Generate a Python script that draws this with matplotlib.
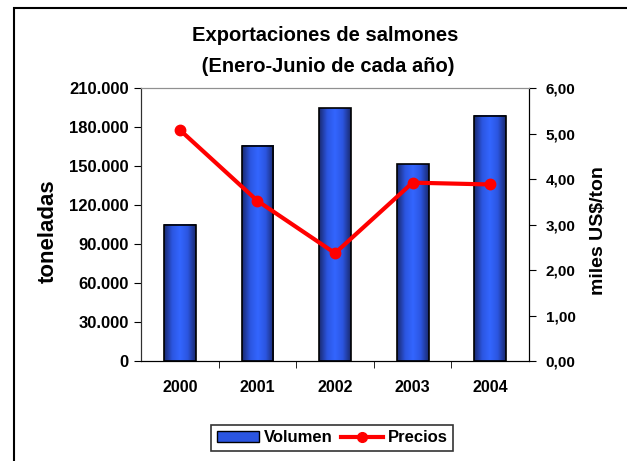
import numpy as np
import matplotlib
matplotlib.use("Agg")
from matplotlib import pyplot as plt
from matplotlib.colors import LinearSegmentedColormap
from matplotlib.patches import Rectangle, Patch
from matplotlib.lines import Line2D
from matplotlib.ticker import FuncFormatter, FixedLocator

plt.rcParams["font.family"] = ["Liberation Sans", "DejaVu Sans"]
plt.rcParams["font.weight"] = "bold"

years = ["2000", "2001", "2002", "2003", "2004"]
volumen = [105000, 165500, 194500, 151500, 188500]
precios = [5.08, 3.52, 2.37, 3.92, 3.88]

fig = plt.figure(figsize=(6.27, 4.61), dpi=100)
ax = fig.add_axes([0.2249, 0.2169, 0.6188, 0.5922])
ax2 = ax.twinx()

# gradient-filled bars
cmap = LinearSegmentedColormap.from_list(
    "bar", ["#1a2a70", "#2b55e0", "#3366ff", "#2b55e0", "#1a2a70"])
grad = np.linspace(0, 1, 64).reshape(1, -1)
x = np.arange(len(years))
w = 0.41
for xi, v in zip(x, volumen):
    ax.imshow(grad, cmap=cmap, aspect="auto", extent=[xi - w / 2, xi + w / 2, 0, v],
              origin="lower", zorder=2, interpolation="bicubic")
ax.bar(x, volumen, width=w, facecolor="none", edgecolor="black", linewidth=1.2, zorder=3)

ax.set_xlim(-0.5, 4.5)
ax.set_ylim(0, 210000)
ax.set_yticks(np.arange(0, 210001, 30000))
ax.yaxis.set_major_formatter(FuncFormatter(lambda v, p: f"{int(v):,}".replace(",", ".")))
ax.set_xticks(x)
ax.set_xticklabels(years)
ax.xaxis.set_minor_locator(FixedLocator(np.arange(0.5, 4.5, 1)))
ax.tick_params(axis="x", which="major", length=0, labelsize=11.5, pad=14)
ax.tick_params(axis="x", which="minor", length=5, direction="out")
ax.tick_params(axis="y", labelsize=12, length=5, direction="out", pad=4)
ax.set_ylabel("toneladas", fontsize=16, fontweight="bold")
ax.yaxis.label.set_va("center")
ax.yaxis.set_label_coords(-0.240, 0.476)

ax2.plot(x, precios, color="#ff0000", linewidth=3, marker="o", markersize=7.5, zorder=4)
ax2.set_ylim(0, 6)
ax2.set_yticks(np.arange(0, 6.01, 1))
ax2.yaxis.set_major_formatter(FuncFormatter(lambda v, p: f"{v:.2f}".replace(".", ",")))
ax2.tick_params(axis="y", labelsize=11, length=5, direction="out", pad=7)
ax2.set_ylabel("miles US$/ton", fontsize=14, fontweight="bold")
ax2.yaxis.label.set_va("center")
ax2.yaxis.set_label_coords(1.178, 0.476)

for a in (ax, ax2):
    a.patch.set_visible(False)
    a.spines["top"].set_color("#909090")
    a.spines["left"].set_color("#303030")
    a.spines["right"].set_color("black")
    a.spines["bottom"].set_color("black")

fig.text(0.519, 1 - 51 / 461, "Exportaciones de salmones\n (Enero-Junio de cada año)",
         fontsize=14.5, fontweight="bold", ha="center", va="center", linespacing=1.75)

handles = [Patch(facecolor="#2b55e0", edgecolor="black"),
           Line2D([], [], color="#ff0000", linewidth=3, marker="o", markersize=7)]
leg = fig.legend(handles, ["Volumen", "Precios"], loc="center", bbox_to_anchor=(0.53, 0.05),
                 ncol=2, fontsize=12, frameon=True, fancybox=False, edgecolor="black",
                 handlelength=2.5, handleheight=0.6, columnspacing=0.5, handletextpad=0.3,
                 borderpad=0.35, borderaxespad=0.2)
leg.get_frame().set_linewidth(1.2)

fig.patches.append(Rectangle((14 / 627, -0.05), 1.1, 1 - 8 / 461 + 0.05, transform=fig.transFigure,
                             fill=False, edgecolor="black", linewidth=1.5))

plt.savefig("out.png", dpi=100)
